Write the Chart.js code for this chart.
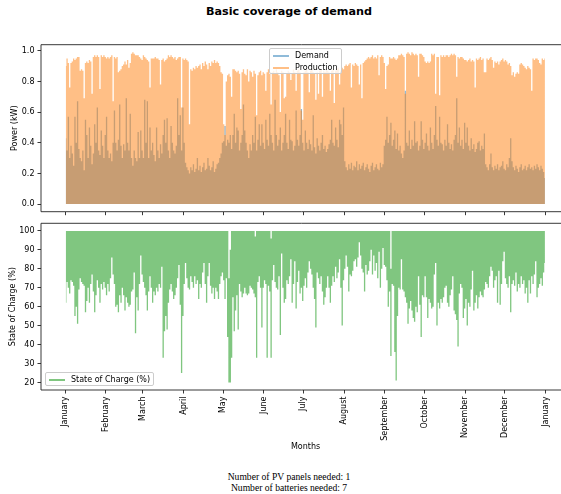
<!DOCTYPE html>
<html>
<head>
<meta charset="utf-8">
<script src="https://cdn.jsdelivr.net/npm/chart.js@4.4.0/dist/chart.umd.min.js"></script>
<style>
  body { margin: 0; background: #fff; width: 561px; height: 494px; position: relative; overflow: hidden; font-family: "DejaVu Sans", sans-serif; color: #000; }
  canvas { position: absolute; left: 0; }
  #topChart { top: 0; }
  #socChart { top: 214px; }
  .txt { position: absolute; white-space: nowrap; }
  .legend { position: absolute; box-sizing: border-box; border: 1px solid #cccccc; border-radius: 2px; background: rgba(255,255,255,0.8); }
  .legend .ln { position: absolute; height: 2px; width: 16px; left: 3px; }
  .legend .lb { position: absolute; left: 25px; font-size: 8px; line-height: 10px; }
</style>
</head>
<body>
<div class="txt" style="left:0;width:578px;top:5px;text-align:center;font-weight:bold;font-size:11.2px;line-height:14px;">Basic coverage of demand</div>
<canvas id="topChart" width="561" height="224"></canvas>
<canvas id="socChart" width="561" height="236"></canvas>

<div class="legend" style="left:269px;top:48px;width:73px;height:25.5px;">
  <div class="ln" style="top:6px;background:rgba(31,119,180,0.5);"></div>
  <div class="lb" style="top:2px;">Demand</div>
  <div class="ln" style="top:17.5px;background:rgba(255,127,14,0.5);"></div>
  <div class="lb" style="top:13.5px;">Production</div>
</div>
<div class="legend" style="left:45px;top:372px;width:108.5px;height:14px;">
  <div class="ln" style="top:5.5px;background:rgba(44,160,44,0.6);"></div>
  <div class="lb" style="top:1.5px;">State of Charge (%)</div>
</div>

<div class="txt" style="left:0;width:611px;top:442px;text-align:center;font-size:8px;line-height:10px;">Months</div>
<div class="txt" style="left:0;width:578px;top:472px;text-align:center;font-family:'Liberation Serif','Times New Roman',serif;font-size:9.6px;line-height:10.5px;">Number of PV panels needed: 1<br>Number of batteries needed: 7</div>

<script>
// month ticks (day of year) and names
const monthDays = [0, 31, 59, 90, 120, 151, 181, 212, 243, 273, 304, 334, 365];
const monthNames = ["January", "February", "March", "April", "May", "June", "July",
  "August", "September", "October", "November", "December", "January"];

const powerTicks = [0, 0.2, 0.4, 0.6, 0.8, 1.0];
const socTicks = [20, 30, 40, 50, 60, 70, 80, 90, 100];

// daily peak production (kW), day 0..364
const productionPeak = [
  .90,.95,.92,.76,.92,.93,.95,.94,.95,.96,
  .96,.87,.88,.87,.69,.92,.93,.92,.94,.93,
  .72,.96,.97,.96,.97,.96,.75,.97,.96,.97,
  .96,.95,.96,.95,.96,.97,.67,.96,.95,.96,
  .86,.87,.88,.90,.91,.93,.91,.94,.89,.92,
  .98,.99,.98,.97,.97,.97,.96,.95,.94,.97,
  .96,.95,.94,.93,.76,.95,.95,.95,.96,.95,
  .95,.94,.78,.94,.95,.93,.94,.95,.97,.96,
  .97,.96,.95,.96,.94,.95,.96,.96,.63,.95,
  .94,.95,.94,.93,.52,.88,.87,.89,.88,.90,
  .89,.90,.91,.88,.92,.90,.93,.91,.88,.92,
  .90,.93,.92,.94,.92,.93,.92,.90,.86,.85,
  .52,.45,.80,.84,.85,.83,.70,.88,.88,.87,
  .86,.87,.85,.62,.86,.88,.85,.84,.88,.80,
  .87,.86,.83,.87,.85,.58,.84,.86,.87,.84,
  .86,.85,.74,.86,.88,.85,.65,.86,.87,.85,
  .88,.86,.84,.60,.87,.86,.69,.70,.85,.87,
  .86,.81,.85,.88,.86,.74,.87,.88,.86,.61,
  .55,.86,.87,.88,.86,.73,.87,.88,.86,.85,
  .68,.86,.72,.87,.88,.70,.87,.86,.88,.87,
  .86,.74,.87,.88,.66,.87,.88,.89,.78,.87,
  .89,.88,.90,.91,.90,.91,.92,.76,.91,.90,
  .92,.91,.90,.78,.91,.69,.92,.93,.94,.95,
  .96,.95,.96,.97,.95,.96,.95,.97,.84,.96,
  .97,.96,.92,.75,.90,.91,.96,.95,.95,.96,
  .95,.94,.95,.97,.97,.98,.97,.96,.72,.98,
  .99,.98,.97,.99,.98,.97,.98,.97,.83,.98,
  .98,.97,.96,.93,.92,.93,.92,.93,.98,.97,
  .98,.72,.96,.96,.71,.97,.96,.97,.96,.97,
  .97,.96,.97,.98,.97,.98,.97,.83,.96,.95,
  .96,.96,.95,.94,.94,.93,.94,.95,.93,.94,
  .93,.76,.95,.94,.95,.96,.94,.95,.86,.86,
  .95,.94,.95,.96,.94,.89,.93,.92,.93,.91,
  .93,.94,.95,.93,.94,.93,.91,.92,.90,.84,
  .86,.83,.85,.86,.85,.91,.92,.91,.90,.89,
  .88,.90,.89,.88,.74,.95,.94,.95,.95,.94,
  .92,.91,.95,.94,.95
];

// daily peak demand (kW)
const demandPeak = [
  .43,.35,.57,.30,.38,.33,.25,.57,.40,.67,
  .36,.30,.28,.35,.22,.55,.45,.30,.50,.38,
  .26,.33,.52,.40,.63,.35,.32,.48,.38,.30,
  .45,.57,.35,.30,.33,.28,.40,.61,.40,.35,
  .42,.65,.38,.30,.39,.35,.69,.40,.35,.59,
  .30,.25,.35,.30,.28,.47,.30,.48,.35,.30,
  .68,.40,.67,.30,.50,.35,.40,.32,.28,.50,
  .35,.30,.39,.33,.45,.55,.40,.56,.35,.30,
  .51,.40,.35,.33,.38,.69,.45,.58,.35,.63,
  .40,.27,.24,.22,.20,.24,.22,.26,.21,.23,
  .30,.22,.25,.21,.24,.27,.22,.23,.30,.25,
  .22,.24,.28,.21,.23,.26,.27,.30,.33,.40,
  .41,.51,.38,.42,.40,.45,.36,.45,.59,.40,
  .50,.48,.35,.40,.45,.65,.48,.40,.35,.30,
  .39,.35,.45,.40,.57,.35,.42,.52,.38,.52,
  .40,.36,.55,.42,.38,.59,.45,.40,.35,.68,
  .45,.38,.42,.50,.35,.40,.45,.59,.40,.36,
  .55,.42,.41,.35,.38,.61,.42,.38,.45,.62,
  .40,.35,.48,.40,.36,.42,.39,.35,.58,.37,
  .33,.43,.38,.35,.40,.45,.36,.38,.34,.36,
  .39,.42,.55,.40,.38,.50,.42,.37,.55,.52,
  .45,.63,.28,.24,.22,.26,.23,.27,.22,.25,
  .24,.28,.22,.26,.23,.25,.27,.22,.24,.26,
  .23,.21,.25,.27,.22,.24,.26,.23,.22,.27,
  .24,.26,.38,.42,.57,.40,.45,.53,.38,.42,
  .48,.36,.46,.35,.38,.33,.30,.35,.74,.40,
  .38,.48,.36,.42,.38,.54,.40,.41,.35,.38,
  .54,.42,.36,.40,.46,.38,.35,.50,.40,.36,
  .45,.64,.42,.38,.57,.40,.39,.35,.42,.38,
  .52,.40,.36,.39,.35,.42,.45,.69,.40,.50,
  .38,.42,.36,.53,.40,.50,.38,.35,.43,.36,
  .39,.34,.36,.40,.41,.35,.38,.36,.46,.26,
  .24,.22,.26,.33,.24,.22,.25,.23,.26,.22,
  .24,.25,.28,.23,.22,.26,.24,.30,.43,.28,
  .24,.22,.25,.23,.21,.24,.26,.22,.23,.25,
  .22,.24,.26,.23,.24,.22,.25,.23,.26,.24,
  .22,.25,.23,.21,.17
];

// daily lowest state of charge (%)
const socMin = [
  62,73,70,67,74,73,71,55,60,51,
  69,75,73,72,71,57,63,70,62,72,
  77,68,57,66,74,70,62,72,69,73,
  70,66,72,68,75,86,77,72,60,61,
  57,66,62,70,66,58,65,62,60,61,
  68,69,78,46,65,58,72,87,77,73,
  70,66,58,68,76,70,62,68,66,70,
  68,72,70,81,33,47,55,48,62,69,
  72,68,64,66,70,75,82,61,25,55,
  72,83,75,70,69,76,73,70,76,72,
  74,64,72,70,78,83,72,62,76,83,
  71,67,70,64,70,68,64,72,76,78,
  74,64,75,44,20,20,33,65,47,58,
  66,48,72,68,65,67,70,67,66,67,
  71,70,69,67,65,33,73,76,70,49,
  70,74,72,33,71,68,33,74,82,73,
  70,69,76,45,88,70,62,64,74,72,
  76,85,62,72,84,59,73,79,67,70,
  63,71,75,70,78,84,80,77,70,64,
  49,78,75,72,76,68,61,65,70,76,
  70,62,71,76,73,81,75,78,85,70,
  50,74,80,87,81,68,77,76,79,84,
  85,81,86,94,87,80,78,68,82,77,
  79,84,90,77,87,79,83,75,89,70,
  80,91,82,81,74,60,68,34,72,71,
  36,21,55,70,69,85,69,68,65,62,
  51,59,63,58,54,52,60,57,76,61,
  44,66,65,76,65,54,64,62,59,60,
  77,83,50,62,59,64,62,65,70,71,
  62,60,66,69,76,58,56,53,39,67,
  72,70,54,59,64,50,62,60,69,79,
  58,62,66,59,65,68,66,65,69,73,
  72,70,76,81,79,70,74,76,62,79,
  61,72,84,89,75,72,70,76,57,72,
  74,71,78,68,72,70,76,72,74,67,
  70,62,74,67,76,72,77,84,65,70,
  72,75,71,78,83
];

// daily highest state of charge (%)
const socMax = [
  100,100,100,100,100,100,100,100,100,100,100,100,100,100,100,100,100,100,100,100,
  100,100,100,100,100,100,100,100,100,100,100,100,100,100,100,100,100,100,100,100,
  100,100,100,100,100,100,100,100,100,100,100,100,100,100,100,100,100,100,100,100,
  100,100,100,100,100,100,100,100,100,100,100,100,100,100,100,100,100,100,100,100,
  100,100,100,100,100,100,100,100,100,100,100,100,100,100,100,100,100,100,100,100,
  100,100,100,100,100,100,100,100,100,100,100,100,100,100,100,100,100,100,100,100,
  100,100,100,100,75,90,100,100,100,100,100,100,100,100,100,100,100,100,100,100,
  100,100,100,100,97,100,100,100,100,100,100,100,100,100,100,100,96,100,100,100,
  100,100,100,100,100,100,100,100,100,100,100,100,100,100,100,100,100,100,100,100,
  100,100,100,100,100,100,100,100,100,100,100,100,100,100,100,100,100,100,100,100,
  100,100,100,100,100,100,100,100,100,100,100,100,100,100,100,100,100,100,100,100,
  100,100,100,100,100,100,100,100,100,100,100,100,100,100,100,100,100,100,100,100,
  100,100,100,100,100,100,100,80,100,100,100,100,100,100,100,100,100,100,100,100,
  100,100,100,100,100,100,100,100,100,100,100,100,100,100,100,100,100,100,100,100,
  100,100,100,100,100,100,100,100,100,100,100,100,100,100,100,100,100,100,100,100,
  100,100,100,100,100,100,100,100,100,100,100,100,100,100,100,100,100,100,100,100,
  100,100,100,100,100,100,100,100,100,100,100,100,100,100,100,100,100,100,100,100,
  100,100,100,100,100,100,100,100,100,100,100,100,100,100,100,100,100,100,100,100,
  100,100,100,100,100
];

const ink = "#222";

// axes frame (left, top, bottom spines; right one falls off the picture)
const frame = {
  id: "frame",
  afterDatasetsDraw(chart) {
    const { ctx, chartArea: a } = chart;
    ctx.save();
    ctx.strokeStyle = ink;
    ctx.lineWidth = 0.9;
    ctx.beginPath();
    ctx.moveTo(a.right + 5, a.top);
    ctx.lineTo(a.left, a.top);
    ctx.lineTo(a.left, a.bottom);
    ctx.lineTo(a.right + 5, a.bottom);
    ctx.stroke();
    ctx.restore();
  }
};

function xScale(showLabels, height) {
  return {
    type: "linear",
    min: -18.3,
    max: 376.7,
    offset: false,
    border: { display: false },
    grid: { drawOnChartArea: false, color: ink, lineWidth: 0.9, tickLength: 3.5 },
    afterBuildTicks: s => { s.ticks = monthDays.map(v => ({ value: v })); },
    afterFit: s => { s.height = height; },
    ticks: {
      display: showLabels,
      autoSkip: false,
      minRotation: 90,
      maxRotation: 90,
      padding: 3,
      color: "#000",
      font: { family: "DejaVu Sans", size: 8 },
      callback: (v, i) => monthNames[i]
    }
  };
}

function yScale(min, max, tickValues, fmt, title, titlePad) {
  return {
    type: "linear",
    min: min,
    max: max,
    border: { display: false },
    grid: { drawOnChartArea: false, color: ink, lineWidth: 0.9, tickLength: 3.5 },
    afterBuildTicks: s => { s.ticks = tickValues.map(v => ({ value: v })); },
    afterFit: s => { s.width = 41; },
    ticks: { padding: 3, color: "#000", font: { family: "DejaVu Sans", size: 8 }, callback: fmt },
    title: {
      display: true,
      text: title,
      color: "#000",
      font: { family: "DejaVu Sans", size: 8 },
      padding: { top: titlePad, bottom: 0 }
    }
  };
}

// filled step areas, one step per day
const areaOpts = { stepped: "middle", pointRadius: 0, borderWidth: 0, borderColor: "rgba(0,0,0,0)" };
const daily = arr => arr.map((v, i) => ({ x: i + 0.5, y: v }));

new Chart(document.getElementById("topChart"), {
  type: "line",
  data: {
    datasets: [
      Object.assign({
        label: "Demand",
        order: 1,
        data: daily(demandPeak),
        fill: "origin",
        backgroundColor: "rgba(31,119,180,0.5)"
      }, areaOpts),
      Object.assign({
        label: "Production",
        order: 0,
        data: daily(productionPeak),
        fill: "origin",
        backgroundColor: "rgba(255,127,14,0.5)"
      }, areaOpts)
    ]
  },
  options: {
    responsive: false,
    animation: false,
    layout: { padding: { top: 44.7, left: 0, right: 0, bottom: 0 } },
    plugins: { legend: { display: false }, tooltip: { enabled: false } },
    scales: {
      x: xScale(false, 12.3),
      y: yScale(-0.0495, 1.0395, powerTicks, v => v.toFixed(1), "Power (kW)", 10.2)
    }
  },
  plugins: [frame]
});

new Chart(document.getElementById("socChart"), {
  type: "line",
  data: {
    datasets: [
      Object.assign({
        label: "SOC high",
        data: daily(socMax),
        fill: false,
        backgroundColor: "rgba(0,0,0,0)"
      }, areaOpts),
      Object.assign({
        label: "State of Charge (%)",
        data: daily(socMin),
        fill: 0,
        backgroundColor: "rgba(44,160,44,0.6)"
      }, areaOpts)
    ]
  },
  options: {
    responsive: false,
    animation: false,
    layout: { padding: { top: 9.3, left: 0, right: 0, bottom: 0 } },
    plugins: { legend: { display: false }, tooltip: { enabled: false } },
    scales: {
      x: xScale(true, 60),
      y: yScale(16, 104, socTicks, v => String(v), "State of Charge (%)", 8.2)
    }
  },
  plugins: [frame]
});
</script>
</body>
</html>
